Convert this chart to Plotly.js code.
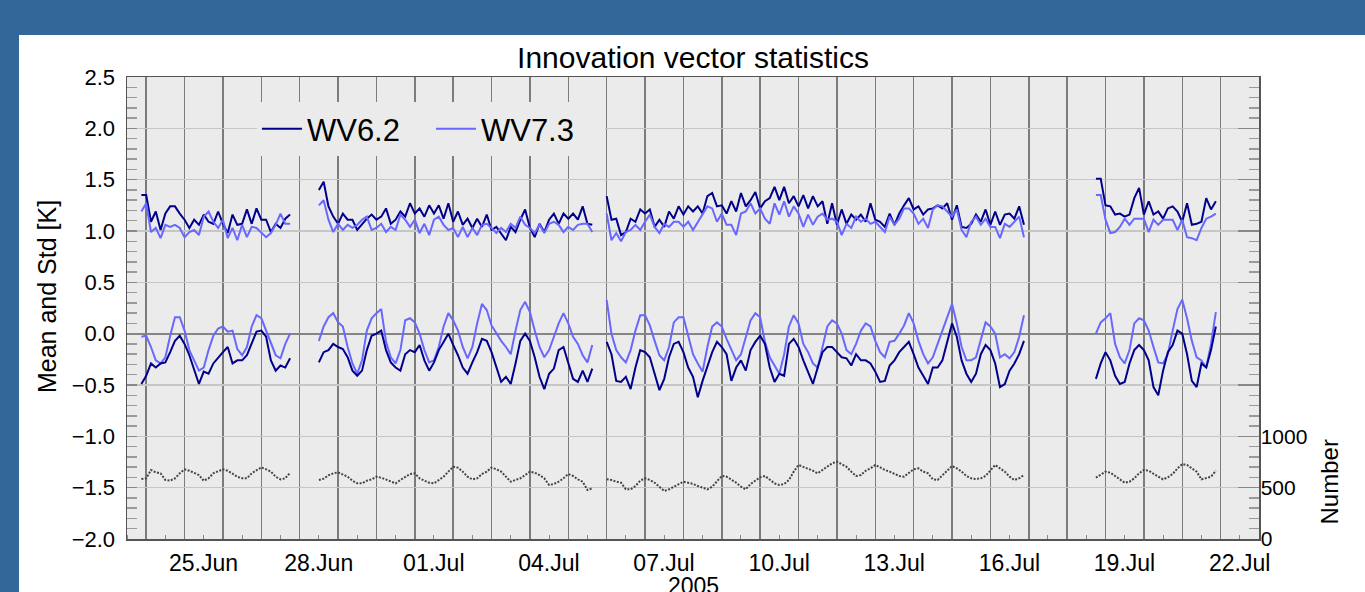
<!DOCTYPE html>
<html><head><meta charset="utf-8">
<script src="https://cdn.plot.ly/plotly-3.0.1.min.js"></script>
<style>
html,body{margin:0;padding:0;background:#336699;width:1365px;height:592px;overflow:hidden}
#panel{position:absolute;left:19px;top:35px;width:1346px;height:557px;background:#ffffff}
#chart{position:absolute;left:0;top:0;width:1365px;height:592px}
</style></head>
<body><div id="panel"></div><div id="chart"></div>
<script>
// ---- data (3-hourly samples, one sub-list per data segment) ----
const segmentStarts = ['2005-06-23T21:00:00Z', '2005-06-28T12:00:00Z', '2005-07-06T00:00:00Z', '2005-07-18T18:00:00Z'];
const stepHours = 3;

const wv62Std = [
  [1.35,1.35,1.09,1.19,1.01,1.17,1.24,1.24,1.17,1.11,1.03,1.11,1.06,1.16,1.09,1.07,1.19,1.07,0.98,1.16,1.06,1.07,1.21,1.07,1.22,1.11,1.11,0.99,1.07,1.03,1.12,1.16],
  [1.40,1.48,1.24,1.14,1.07,1.17,1.11,1.11,1.01,1.07,1.12,1.16,1.11,1.14,1.22,1.07,1.11,1.19,1.14,1.27,1.17,1.22,1.14,1.25,1.17,1.25,1.12,1.27,1.09,1.19,1.06,1.12,1.03,1.12,1.04,1.16,1.01,1.04,0.98,0.91,1.04,0.99,1.11,1.21,1.03,0.94,1.07,0.99,1.11,1.17,1.07,1.17,1.12,1.17,1.11,1.24,1.07,1.06],
  [1.34,1.11,1.12,0.96,0.99,1.12,1.09,1.21,1.17,1.21,1.04,1.11,1.04,1.19,1.12,1.24,1.16,1.24,1.19,1.24,1.17,1.34,1.37,1.24,1.25,1.17,1.29,1.19,1.37,1.24,1.30,1.38,1.22,1.29,1.32,1.43,1.30,1.43,1.27,1.34,1.24,1.35,1.22,1.34,1.24,1.29,1.07,1.27,1.06,1.21,1.07,1.16,1.11,1.16,1.09,1.27,1.11,1.09,1.04,1.17,1.06,1.17,1.25,1.32,1.21,1.24,1.16,1.21,1.22,1.25,1.22,1.27,1.11,1.25,1.04,1.03,1.07,1.16,1.09,1.21,1.06,1.19,1.06,1.16,1.17,1.12,1.24,1.06],
  [1.51,1.51,1.25,1.24,1.16,1.17,1.14,1.16,1.32,1.42,1.16,1.29,1.16,1.19,1.12,1.22,1.24,1.19,1.09,1.27,1.06,1.07,1.09,1.32,1.21,1.29]
];
const wv73Std = [
  [1.19,1.27,0.99,1.03,0.93,1.06,1.04,1.06,1.03,0.94,0.99,1.01,0.96,1.14,1.19,1.09,1.03,1.11,0.93,1.03,0.91,1.06,0.94,1.04,1.03,0.98,0.94,0.98,1.06,1.17,1.07,1.07],
  [1.25,1.30,1.11,0.99,1.07,1.01,1.06,1.03,1.06,1.11,1.14,1.01,1.03,1.07,0.99,1.04,1.01,1.16,1.11,1.04,1.11,0.98,1.07,0.96,1.11,1.14,1.06,1.01,1.03,0.94,1.04,0.94,1.03,0.96,1.06,1.07,1.03,0.98,1.03,0.99,1.07,1.03,1.14,1.06,1.03,0.98,1.06,0.98,1.07,1.09,1.06,0.99,1.04,1.01,1.06,1.07,1.07,0.99],
  [1.17,0.91,0.98,0.90,0.99,1.01,1.06,1.01,1.09,1.16,1.04,0.98,1.07,1.04,1.09,1.09,1.04,1.09,1.01,1.09,1.16,1.24,1.22,1.09,1.17,1.06,1.06,0.96,1.17,1.19,1.27,1.17,1.22,1.12,1.07,1.27,1.16,1.29,1.14,1.24,1.17,1.04,1.16,1.06,1.14,1.17,1.11,1.12,1.09,0.96,1.07,1.03,1.14,1.09,1.12,1.07,1.09,1.04,0.99,1.14,1.06,1.12,1.22,1.22,1.17,1.07,1.12,1.03,1.21,1.25,1.24,1.19,1.14,1.21,1.01,0.94,1.09,1.14,1.06,1.12,1.04,1.04,0.93,1.07,1.04,1.09,1.14,0.94],
  [1.35,1.35,1.11,0.98,0.99,1.04,1.12,1.06,1.12,1.12,1.12,0.99,1.11,1.06,1.11,1.11,1.11,1.01,1.11,0.94,0.93,0.91,1.03,1.12,1.14,1.17]
];
const wv62Mean = [
  [-0.49,-0.41,-0.29,-0.33,-0.29,-0.28,-0.18,-0.07,-0.02,-0.10,-0.21,-0.36,-0.49,-0.37,-0.39,-0.29,-0.23,-0.18,-0.13,-0.29,-0.26,-0.26,-0.21,-0.10,0.02,0.03,-0.03,-0.26,-0.36,-0.31,-0.33,-0.24],
  [-0.28,-0.18,-0.16,-0.10,-0.13,-0.15,-0.23,-0.36,-0.41,-0.36,-0.16,-0.02,0.00,0.03,-0.16,-0.28,-0.33,-0.36,-0.20,-0.16,-0.18,-0.11,-0.26,-0.36,-0.28,-0.16,-0.08,0.00,-0.11,-0.21,-0.33,-0.39,-0.28,-0.18,-0.05,-0.07,-0.18,-0.33,-0.47,-0.42,-0.49,-0.29,-0.07,0.00,-0.07,-0.23,-0.42,-0.54,-0.39,-0.34,-0.16,-0.13,-0.29,-0.44,-0.47,-0.36,-0.47,-0.34],
  [-0.08,-0.20,-0.46,-0.47,-0.42,-0.54,-0.33,-0.16,-0.18,-0.23,-0.39,-0.55,-0.44,-0.23,-0.10,-0.08,-0.18,-0.33,-0.42,-0.62,-0.46,-0.33,-0.18,-0.08,-0.13,-0.20,-0.46,-0.33,-0.26,-0.36,-0.16,-0.08,-0.02,-0.10,-0.33,-0.47,-0.39,-0.41,-0.10,-0.05,-0.13,-0.26,-0.37,-0.49,-0.33,-0.18,-0.13,-0.13,-0.18,-0.23,-0.24,-0.31,-0.20,-0.26,-0.26,-0.29,-0.37,-0.47,-0.46,-0.31,-0.26,-0.18,-0.13,-0.08,-0.20,-0.33,-0.41,-0.49,-0.33,-0.33,-0.26,-0.08,0.10,-0.03,-0.26,-0.39,-0.47,-0.39,-0.20,-0.11,-0.16,-0.29,-0.52,-0.49,-0.36,-0.29,-0.20,-0.07],
  [-0.44,-0.29,-0.18,-0.26,-0.41,-0.49,-0.47,-0.29,-0.16,-0.11,-0.16,-0.26,-0.52,-0.60,-0.36,-0.18,-0.11,0.03,0.00,-0.20,-0.46,-0.52,-0.29,-0.33,-0.16,0.07]
];
const wv73Mean = [
  [-0.03,-0.02,-0.13,-0.26,-0.29,-0.23,-0.02,0.16,0.16,0.03,-0.16,-0.26,-0.36,-0.33,-0.16,-0.02,0.05,0.07,0.02,0.03,-0.15,-0.21,-0.13,0.07,0.18,0.15,0.03,-0.10,-0.21,-0.24,-0.10,0.00],
  [-0.07,0.07,0.16,0.20,0.11,0.07,-0.13,-0.29,-0.39,-0.26,0.03,0.15,0.20,0.24,-0.08,-0.23,-0.29,-0.16,0.13,0.15,0.11,0.00,-0.16,-0.28,-0.26,-0.13,0.07,0.20,0.13,0.03,-0.13,-0.24,-0.13,0.10,0.29,0.23,0.08,0.00,-0.07,-0.13,-0.20,0.03,0.23,0.31,0.21,0.03,-0.13,-0.23,-0.16,-0.03,0.10,0.20,0.10,-0.03,-0.10,-0.21,-0.28,-0.11],
  [0.33,0.00,-0.16,-0.23,-0.28,-0.16,0.03,0.18,0.18,0.08,-0.07,-0.21,-0.26,-0.13,0.11,0.16,0.16,-0.03,-0.20,-0.29,-0.37,-0.13,0.07,0.11,0.07,-0.05,-0.16,-0.26,-0.20,-0.03,0.13,0.20,0.16,-0.08,-0.23,-0.31,-0.39,-0.20,0.07,0.18,0.10,-0.10,-0.18,-0.29,-0.33,-0.13,0.07,0.13,0.10,0.00,-0.16,-0.20,-0.10,0.03,0.10,0.07,-0.07,-0.18,-0.23,-0.08,-0.07,0.00,0.08,0.20,0.10,-0.07,-0.20,-0.29,-0.23,-0.10,0.03,0.18,0.29,0.10,-0.13,-0.26,-0.26,-0.23,-0.07,0.11,0.07,0.00,-0.23,-0.20,-0.24,-0.18,-0.03,0.18],
  [0.00,0.11,0.15,0.20,-0.10,-0.23,-0.29,-0.16,0.10,0.15,0.13,0.03,-0.13,-0.28,-0.29,-0.20,0.03,0.24,0.33,0.15,-0.07,-0.23,-0.26,-0.33,-0.10,0.21]
];
const numberObs = [
  [584,591,672,649,640,575,568,591,640,679,665,646,623,568,591,640,656,679,665,640,607,591,591,640,672,698,679,656,607,581,591,646],
  [575,588,620,640,649,630,607,568,542,542,568,581,607,597,581,558,542,575,607,633,640,591,568,548,542,575,607,656,704,695,656,607,581,591,633,656,695,679,656,607,558,575,591,623,656,646,623,591,526,536,558,591,633,614,581,558,477,494],
  [581,575,558,548,484,484,516,568,591,575,548,509,468,484,509,536,558,548,536,516,503,484,509,558,614,607,581,548,509,484,536,568,601,614,581,542,526,536,575,656,721,704,688,665,640,672,704,737,753,730,704,656,614,623,665,688,721,698,672,656,633,614,607,640,679,688,656,640,581,575,623,672,711,688,656,614,591,584,591,614,672,721,688,656,607,575,591,623],
  [597,623,656,646,614,581,548,558,591,640,672,665,640,607,581,601,633,688,730,721,688,656,581,591,607,665]
];

const seriesNames = ['WV6.2', 'WV7.3'];
const xTickLabels = ['25.Jun','28.Jun','01.Jul','04.Jul','07.Jul','10.Jul','13.Jul','16.Jul','19.Jul','22.Jul'];
const xTickDates  = ['2005-06-25','2005-06-28','2005-07-01','2005-07-04','2005-07-07','2005-07-10','2005-07-13','2005-07-16','2005-07-19','2005-07-22'];
const yRightLabels = ['0','500','1000'];

// ---- helpers ----
function fmt(d){
  const p = n => String(n).padStart(2,'0');
  return d.getUTCFullYear()+'-'+p(d.getUTCMonth()+1)+'-'+p(d.getUTCDate())+' '+p(d.getUTCHours())+':'+p(d.getUTCMinutes());
}
function joinSegments(segs){
  const x = [], y = [];
  segs.forEach((vals, s) => {
    const t0 = Date.parse(segmentStarts[s]);
    vals.forEach((v, i) => { x.push(fmt(new Date(t0 + i*stepHours*3600000))); y.push(v); });
    if (s < segs.length - 1) { x.push(fmt(new Date(t0 + vals.length*stepHours*3600000))); y.push(null); }
  });
  return {x, y};
}

const dark = '#00008c', light = '#6868ff';
const FONT = 'Liberation Sans, Arial, Helvetica, sans-serif';

const s62 = joinSegments(wv62Std), s73 = joinSegments(wv73Std);
const m62 = joinSegments(wv62Mean), m73 = joinSegments(wv73Mean);
const nob = joinSegments(numberObs);

const traces = [
  {x:s62.x, y:s62.y, type:'scatter', mode:'lines', name:seriesNames[0], legendgroup:'a', line:{color:dark, width:2}},
  {x:s73.x, y:s73.y, type:'scatter', mode:'lines', name:seriesNames[1], legendgroup:'b', line:{color:light, width:2}},
  {x:m73.x, y:m73.y, type:'scatter', mode:'lines', name:seriesNames[1], legendgroup:'b', showlegend:false, line:{color:light, width:2}},
  {x:m62.x, y:m62.y, type:'scatter', mode:'lines', name:seriesNames[0], legendgroup:'a', showlegend:false, line:{color:dark, width:2}},
  {x:nob.x, y:nob.y, type:'scatter', mode:'lines', name:'Number', yaxis:'y2', showlegend:false, line:{color:'#444444', width:2, dash:'2px,1.5px'}}
];

// day gridlines at midnight, labels shifted to the middle of the day
const dayTicks = [], dayText = [], noonTicks = [];
for (let t = Date.UTC(2005,5,24); t <= Date.UTC(2005,6,22); t += 86400000) {
  const d = fmt(new Date(t)).slice(0,10);
  dayTicks.push(d);
  const k = xTickDates.indexOf(d);
  dayText.push(k >= 0 ? xTickLabels[k] : '');
}
for (let t = Date.UTC(2005,5,23,12); t <= Date.UTC(2005,6,22,12); t += 86400000) noonTicks.push(fmt(new Date(t)));

const rightVals = [], rightText = [];
for (let v = 0; v <= 4500; v += 500) { rightVals.push(v); rightText.push(yRightLabels[v/500] || ''); }

const layout = {
  width:1365, height:592,
  margin:{l:127, r:105.5, t:77, b:53, pad:0},
  paper_bgcolor:'rgba(0,0,0,0)', plot_bgcolor:'#ebebeb',
  font:{family:FONT, color:'#000'},
  showlegend:true,
  title:{text:'Innovation vector statistics', font:{size:30, family:FONT, color:'#000'}, x:0.5, xref:'paper', xanchor:'center', y:1-57/592, yref:'container', yanchor:'middle'},
  xaxis:{
    type:'date', range:['2005-06-23 12:00','2005-07-23 00:00'],
    tickmode:'array', tickvals:dayTicks, ticktext:dayText, ticklabelshift:19,
    ticks:'', showgrid:true, gridcolor:'#7c7c7c', gridwidth:1.5,
    minor:{tickmode:'array', tickvals:noonTicks, ticks:'inside', ticklen:4, tickcolor:'#888', showgrid:false},
    showline:true, linecolor:'#555', linewidth:1.5, mirror:true, zeroline:false,
    tickfont:{size:23, family:FONT}, ticklabelstandoff:3, automargin:false
  },
  yaxis:{
    range:[-2.0, 2.5], tickmode:'linear', tick0:-2, dtick:0.5, tickformat:'.1f',
    ticks:'inside', ticklen:10, tickcolor:'#888', tickwidth:1.5,
    minor:{tickmode:'linear', tick0:-2, dtick:0.1, ticks:'inside', ticklen:10, tickcolor:'#999', showgrid:false},
    showgrid:true, gridcolor:'#c6c6c6', gridwidth:1.5,
    zeroline:true, zerolinecolor:'#858585', zerolinewidth:2,
    showline:true, linecolor:'#555', linewidth:1.5,
    tickfont:{size:22, family:FONT}, ticklabelstandoff:6, automargin:false
  },
  yaxis2:{
    overlaying:'y', side:'right', range:[0, 4500],
    tickmode:'array', tickvals:rightVals, ticktext:rightText,
    ticks:'inside', ticklen:21, tickcolor:'#888', tickwidth:1.5,
    minor:{tickmode:'linear', tick0:0, dtick:100, ticks:'inside', ticklen:10, tickcolor:'#999', showgrid:false},
    showgrid:false, zeroline:false, showline:true, linecolor:'#555', linewidth:1.5,
    tickfont:{size:21, family:FONT}, ticklabelstandoff:-4, automargin:false
  },
  legend:{orientation:'h', x:(257-127)/1132.5, y:(539-102)/462, xanchor:'left', yanchor:'top',
    bgcolor:'#ebebeb', borderwidth:0, font:{size:31, family:FONT, color:'#000'}, itemwidth:40, entrywidth:119},
  annotations:[
    {text:'Mean and Std [K]', textangle:-90, x:(47-127)/1132.5, y:(539-297)/462, xref:'paper', yref:'paper', showarrow:false, xanchor:'center', yanchor:'middle', font:{size:25, family:FONT, color:'#000'}},
    {text:'Number', textangle:-90, x:(1330-127)/1132.5, y:(539-482)/462, xref:'paper', yref:'paper', showarrow:false, xanchor:'center', yanchor:'middle', font:{size:24, family:FONT, color:'#000'}},
    {text:'2005', x:0.5, y:(539-586)/462, xref:'paper', yref:'paper', showarrow:false, xanchor:'center', yanchor:'middle', font:{size:23, family:FONT, color:'#000'}}
  ]
};

Plotly.newPlot('chart', traces, layout, {displayModeBar:false, staticPlot:true});
</script></body></html>
